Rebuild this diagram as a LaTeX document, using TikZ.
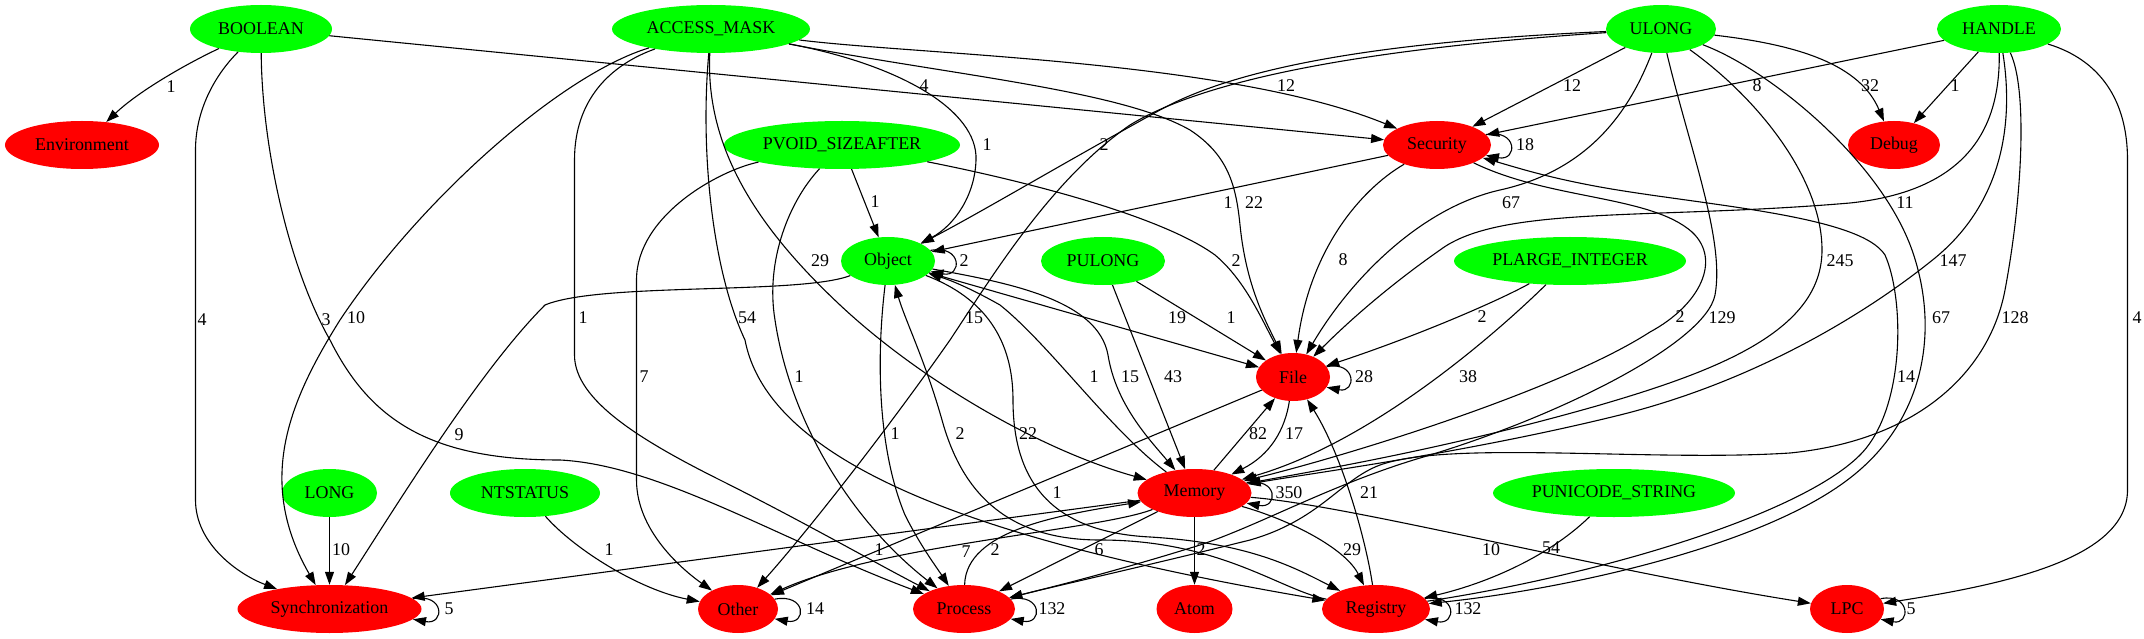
\documentclass[tikz,border=0pt]{standalone}
\usepackage{fontspec}
\setmainfont{Liberation Serif}
\usetikzlibrary{shapes.geometric,arrows.meta}
\definecolor{gvgreen}{HTML}{00FF00}
\definecolor{gvred}{HTML}{FF0000}
\newcommand\gvfont{\fontsize{18}{20}\selectfont}
\tikzset{
  gvnode/.style={ellipse, draw=none, inner sep=0pt, minimum height=48bp, font=\gvfont},
  typenode/.style={gvnode, fill=gvgreen},
  catnode/.style={gvnode, fill=gvred},
  gvedge/.style={draw=black, line width=1.1bp, -{Triangle[length=13bp,width=9bp]}},
  elbl/.style={font=\gvfont, inner sep=0pt},
}
\begin{document}
\begin{tikzpicture}[x=1bp,y=-1bp]
\fill[white] (0,0) rectangle (2144,639);
\useasboundingbox (0,0) rectangle (2144,639);
% nodes
\node[typenode, minimum width=142bp] (BOOL) at (261,29) {BOOLEAN};
\node[typenode, minimum width=198bp] (AM) at (711,29) {ACCESS\_MASK};
\node[typenode, minimum width=110bp] (UL) at (1661,29) {ULONG};
\node[typenode, minimum width=124bp] (HA) at (1999,29) {HANDLE};
\node[catnode, minimum width=154bp] (ENV) at (82,145) {Environment};
\node[typenode, minimum width=236bp] (PV) at (842,145) {PVOID\_SIZEAFTER};
\node[catnode, minimum width=108bp] (SEC) at (1437,145) {Security};
\node[catnode, minimum width=92bp] (DBG) at (1894,145) {Debug};
\node[typenode, minimum width=94bp] (OBJ) at (888,261) {Object};
\node[typenode, minimum width=124bp] (PUL) at (1103,261) {PULONG};
\node[typenode, minimum width=232bp] (PLI) at (1570,261) {PLARGE\_INTEGER};
\node[catnode, minimum width=74bp] (FILE) at (1293,377) {File};
\node[typenode, minimum width=95bp] (LONG) at (329.5,493) {LONG};
\node[typenode, minimum width=150bp] (NTS) at (525,493) {NTSTATUS};
\node[catnode, minimum width=114bp] (MEM) at (1194.5,493) {Memory};
\node[typenode, minimum width=242bp] (PUS) at (1614,493) {PUNICODE\_STRING};
\node[catnode, minimum width=184bp] (SYNC) at (329.5,609) {Synchronization};
\node[catnode, minimum width=80bp] (OTH) at (738,609) {Other};
\node[catnode, minimum width=102bp] (PROC) at (964,609) {Process};
\node[catnode, minimum width=76bp] (ATOM) at (1194.5,609) {Atom};
\node[catnode, minimum width=108bp] (REG) at (1376,609) {Registry};
\node[catnode, minimum width=74bp] (LPC) at (1847,609) {LPC};
% BOOLEAN
\draw[gvedge] (BOOL) .. controls (190,62) and (140,90) .. (ENV) node[elbl] (l1) at (171,87) {1};
\draw[gvedge] (BOOL) -- (SEC) node[elbl] (l2) at (924,86) {4};
\draw[gvedge] (BOOL) .. controls (215,75) and (195.5,110) .. (195.5,150) -- (195.5,500) .. controls (195.5,545) and (240,575) .. (SYNC) node[elbl] (l3) at (202,320) {4};
\draw[gvedge] (BOOL) .. controls (262,150) and (290,270) .. (330,340) .. controls (370,420) and (430,460) .. (560,460) .. controls (660,465) and (780,540) .. (PROC) node[elbl] (l4) at (326,320) {3};
% ACCESS_MASK
\draw[gvedge] (AM) .. controls (920,55) and (1230,60) .. (SEC) node[elbl] (l5) at (1286,86) {12};
\draw[gvedge] (AM) .. controls (900,65) and (978,110) .. (976,160) .. controls (975,195) and (955,225) .. (OBJ) node[elbl] (l6) at (987,145) {1};
\draw[gvedge] (AM) .. controls (950,75) and (1120,90) .. (1190,130) .. controls (1228,155) and (1236,185) .. (1240,225) .. controls (1246,285) and (1265,320) .. (FILE) node[elbl] (l7) at (1254,203) {22};
\draw[gvedge] (AM) .. controls (705,150) and (760,230) .. (840,305) .. controls (920,380) and (1040,450) .. (MEM) node[elbl] (l8) at (820,261) {29};
\draw[gvedge] (AM) .. controls (700,150) and (712,270) .. (745,340) .. controls (770,470) and (1000,545) .. (REG) node[elbl] (l9) at (747,318) {54};
\draw[gvedge] (AM) .. controls (610,65) and (574.5,100) .. (574.5,160) -- (574.5,355) .. controls (574.5,400) and (640,440) .. (720,480) .. controls (800,520) and (870,560) .. (PROC) node[elbl] (l10) at (583,318) {1};
\draw[gvedge] (AM) .. controls (560,75) and (420,200) .. (340,320) .. controls (290,400) and (255,480) .. (SYNC) node[elbl] (l11) at (356,318) {10};
% ULONG
\draw[gvedge] (UL) -- (SEC) node[elbl] (l12) at (1572,86) {12};
\draw[gvedge] (UL) .. controls (1420,40) and (1250,60) .. (1160,110) .. controls (1060,165) and (985,210) .. (OBJ) node[elbl] (l13) at (1104,145) {2};
\draw[gvedge] (UL) .. controls (1630,110) and (1590,170) .. (1500,190) .. controls (1420,208) and (1350,280) .. (FILE) node[elbl] (l14) at (1511,203) {67};
\draw[gvedge] (UL) .. controls (1420,45) and (1220,70) .. (1130,125) .. controls (1050,180) and (990,280) .. (950,340) .. controls (880,440) and (800,540) .. (OTH) node[elbl] (l15) at (974,318) {15};
\draw[gvedge] (UL) .. controls (1800,45) and (1860,65) .. (DBG) node[elbl] (l16) at (1870,86) {32};
\draw[gvedge] (UL) .. controls (1760,100) and (1822,180) .. (1822,250) .. controls (1822,330) and (1720,370) .. (1600,405) .. controls (1450,448) and (1320,470) .. (MEM) node[elbl] (l17) at (1840,261) {245};
\draw[gvedge] (UL) .. controls (1690,150) and (1725,240) .. (1715,295) .. controls (1705,345) and (1550,420) .. (1420,458) .. controls (1330,485) and (1260,525) .. (1200,545) .. controls (1120,570) and (1060,585) .. (PROC) node[elbl] (l18) at (1722,318) {129};
\draw[gvedge] (UL) .. controls (1770,70) and (1880,160) .. (1912,250) .. controls (1940,330) and (1925,420) .. (1850,478) .. controls (1760,548) and (1560,590) .. (REG) node[elbl] (l19) at (1941,318) {67};
% HANDLE
\draw[gvedge] (HA) -- (SEC) node[elbl] (l20) at (1757,86) {8};
\draw[gvedge] (HA) -- (DBG) node[elbl] (l21) at (1955,86) {1};
\draw[gvedge] (HA) .. controls (2000,120) and (1975,190) .. (1850,203) .. controls (1650,220) and (1500,205) .. (1440,250) .. controls (1390,285) and (1350,320) .. (FILE) node[elbl] (l22) at (1905,203) {11};
\draw[gvedge] (HA) .. controls (2012,110) and (2010,200) .. (1930,262) .. controls (1870,310) and (1760,380) .. (1620,415) .. controls (1470,452) and (1320,472) .. (MEM) node[elbl] (l23) at (1953,261) {147};
\draw[gvedge] (HA) .. controls (2028,90) and (2022,200) .. (2005,290) .. controls (1990,370) and (1920,440) .. (1790,453) .. controls (1650,462) and (1450,440) .. (1380,465) .. controls (1340,480) and (1320,520) .. (1250,540) .. controls (1150,565) and (1060,585) .. (PROC) node[elbl] (l24) at (2015,318) {128};
\draw[gvedge] (HA) .. controls (2100,60) and (2127.5,100) .. (2127.5,160) -- (2127.5,490) .. controls (2127.5,560) and (2000,585) .. (LPC) node[elbl] (l25) at (2137,318) {4};
% PVOID_SIZEAFTER
\draw[gvedge] (PV) -- (OBJ) node[elbl] (l26) at (875,202) {1};
\draw[gvedge] (PV) .. controls (1020,180) and (1160,215) .. (1215,255) .. controls (1245,280) and (1262,320) .. (FILE) node[elbl] (l27) at (1236,261) {2};
\draw[gvedge] (PV) .. controls (720,170) and (636.5,215) .. (636.5,280) -- (636.5,480) .. controls (636.5,535) and (690,575) .. (OTH) node[elbl] (l28) at (644,377) {7};
\draw[gvedge] (PV) .. controls (790,200) and (765,260) .. (775,320) .. controls (790,420) and (850,520) .. (PROC) node[elbl] (l29) at (799,377) {1};
% PULONG, PLARGE_INTEGER
\draw[gvedge] (PUL) -- (FILE) node[elbl] (l30) at (1231,318) {1};
\draw[gvedge] (PUL) -- (MEM) node[elbl] (l31) at (1173,377) {43};
\draw[gvedge] (PLI) .. controls (1500,300) and (1420,335) .. (FILE) node[elbl] (l32) at (1482,317) {2};
\draw[gvedge] (PLI) .. controls (1510,320) and (1380,440) .. (MEM) node[elbl] (l33) at (1468,377) {38};
% LONG, NTSTATUS, PUNICODE_STRING
\draw[gvedge] (LONG) -- (SYNC) node[elbl] (l34) at (341,550) {10};
\draw[gvedge] (NTS) .. controls (575,550) and (640,590) .. (OTH) node[elbl] (l35) at (609,550) {1};
\draw[gvedge] (PUS) .. controls (1545,560) and (1480,585) .. (REG) node[elbl] (l36) at (1551,548) {54};
% Object
\draw[gvedge] (OBJ.14) .. controls +(32,-6) and +(32,6) .. (OBJ.-14) node[elbl] (l37) at (964,261) {2};
\draw[gvedge] (OBJ) .. controls (800,295) and (600,282) .. (545,305) .. controls (480,370) and (400,500) .. (SYNC) node[elbl] (l38) at (459,435) {9};
\draw[gvedge] (OBJ) .. controls (876,360) and (878,450) .. (905,515) .. controls (920,545) and (935,565) .. (PROC) node[elbl] (l39) at (895,434) {1};
\draw[gvedge] (OBJ) -- (FILE) node[elbl] (l40) at (1177,318) {19};
\draw[gvedge] (OBJ) .. controls (1010,283) and (1098,300) .. (1108,355) .. controls (1116,405) and (1150,440) .. (MEM) node[elbl] (l41) at (1130,377) {15};
\draw[gvedge] (OBJ) .. controls (985,298) and (1013,340) .. (1013,400) .. controls (1013,480) and (1050,532) .. (1150,537) .. controls (1250,543) and (1295,568) .. (REG) node[elbl] (l42) at (1028,434) {22};
% Security
\draw[gvedge] (SEC.12) .. controls +(32,-6) and +(32,6) .. (SEC.-12) node[elbl] (l43) at (1525,145) {18};
\draw[gvedge] (SEC) -- (OBJ) node[elbl] (l44) at (1228,203) {1};
\draw[gvedge] (SEC) .. controls (1360,190) and (1310,250) .. (FILE) node[elbl] (l45) at (1343,260) {8};
\draw[gvedge] (SEC) .. controls (1550,200) and (1650,195) .. (1692,232) .. controls (1722,260) and (1700,305) .. (1650,332) .. controls (1560,390) and (1350,455) .. (MEM) node[elbl] (l46) at (1680,317) {2};
% File
\draw[gvedge] (FILE.17) .. controls +(30,-6) and +(30,6) .. (FILE.-17) node[elbl] (l47) at (1364,377) {28};
\draw[gvedge] (FILE) .. controls (1285,430) and (1270,455) .. (MEM) node[elbl] (l48) at (1294,434) {17};
\draw[gvedge] (FILE) -- (OTH) node[elbl] (l49) at (1057,493) {1};
% Memory
\draw[gvedge] (MEM.11) .. controls +(32,-6) and +(32,6) .. (MEM.-11) node[elbl] (l50) at (1289,493) {350};
\draw[gvedge] (MEM) -- (FILE) node[elbl] (l51) at (1258,434) {82};
\draw[gvedge] (MEM) .. controls (1110,430) and (1050,345) .. (1000,305) .. controls (970,288) and (950,280) .. (OBJ) node[elbl] (l52) at (1094,377) {1};
\draw[gvedge] (MEM) -- (SYNC) node[elbl] (l53) at (879,550) {1};
\draw[gvedge] (MEM) .. controls (1100,530) and (880,545) .. (OTH) node[elbl] (l54) at (966,552) {7};
\draw[gvedge] (MEM) -- (PROC) node[elbl] (l55) at (1099,550) {6};
\draw[gvedge] (MEM) -- (ATOM) node[elbl] (l56) at (1201,550) {2};
\draw[gvedge] (MEM) .. controls (1290,520) and (1345,548) .. (REG) node[elbl] (l57) at (1352,550) {29};
\draw[gvedge] (MEM) .. controls (1350,505) and (1600,570) .. (LPC) node[elbl] (l58) at (1491,550) {10};
% Process, Registry
\draw[gvedge] (PROC.12) .. controls +(32,-6) and +(32,6) .. (PROC.-12) node[elbl] (l59) at (1052,609) {132};
\draw[gvedge] (PROC) .. controls (966,530) and (1060,515) .. (MEM) node[elbl] (l60) at (995,550) {2};
\draw[gvedge] (REG.12) .. controls +(32,-6) and +(32,6) .. (REG.-12) node[elbl] (l61) at (1468,609) {132};
\draw[gvedge] (REG) .. controls (1366,540) and (1342,455) .. (FILE) node[elbl] (l62) at (1369,493) {21};
\draw[gvedge] (REG) .. controls (1280,590) and (1220,540) .. (1100,540) .. controls (1000,540) and (960,485) .. (942,420) .. controls (925,360) and (905,320) .. (OBJ) node[elbl] (l63) at (960,434) {2};
\draw[gvedge] (REG) .. controls (1600,575) and (1800,515) .. (1860,455) .. controls (1905,410) and (1905,300) .. (1885,255) .. controls (1860,215) and (1700,205) .. (1600,187) .. controls (1545,177) and (1515,167) .. (SEC) node[elbl] (l64) at (1906,377) {14};
% other self loops
\draw[gvedge] (SYNC.7) .. controls +(32,-6) and +(32,6) .. (SYNC.-7) node[elbl] (l65) at (449,609) {5};
\draw[gvedge] (OTH.15) .. controls +(32,-6) and +(32,6) .. (OTH.-15) node[elbl] (l66) at (815,609) {14};
\draw[gvedge] (LPC.17) .. controls +(30,-6) and +(30,6) .. (LPC.-17) node[elbl] (l67) at (1911,609) {5};
\end{tikzpicture}
\end{document}
